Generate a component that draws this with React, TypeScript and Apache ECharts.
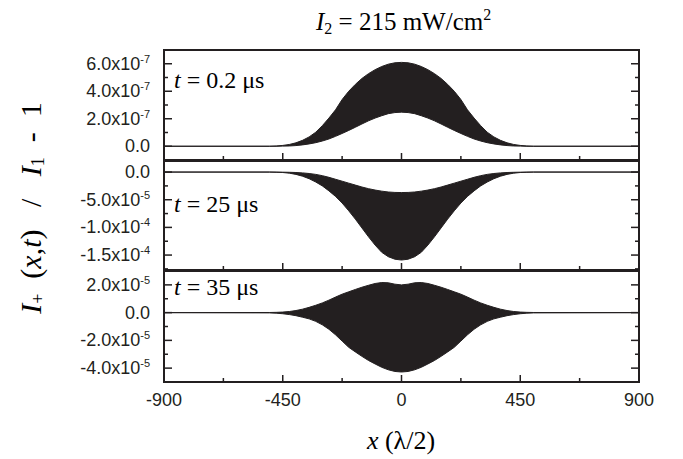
import React, { useEffect, useRef } from 'react';
import * as echarts from 'echarts';

// x positions (units of lambda/2)
const xValues = [-900, -500, -475, -450, -425, -400, -375, -350, -325, -300, -275, -250, -225, -200, -175, -150, -125, -100, -75, -50, -25, 0, 25, 50, 75, 100, 125, 150, 175, 200, 225, 250, 275, 300, 325, 350, 375, 400, 425, 450, 475, 500, 900];

// Panel 1 (t = 0.2 us), values in units of 1e-7
const p1Upper = [0, 0, 0.02, 0.06, 0.13, 0.25, 0.43, 0.68, 1.02, 1.5, 2.05, 2.65, 3.4, 4.0, 4.5, 4.93, 5.28, 5.57, 5.8, 5.97, 6.07, 6.1, 6.07, 5.97, 5.8, 5.57, 5.28, 4.93, 4.5, 4.0, 3.4, 2.65, 2.05, 1.5, 1.02, 0.68, 0.43, 0.25, 0.13, 0.06, 0.02, 0, 0];
const p1Lower = [0, 0, 0, 0.01, 0.02, 0.05, 0.1, 0.17, 0.26, 0.38, 0.53, 0.72, 0.93, 1.15, 1.38, 1.62, 1.85, 2.05, 2.22, 2.37, 2.45, 2.48, 2.45, 2.37, 2.22, 2.05, 1.85, 1.62, 1.38, 1.15, 0.93, 0.72, 0.53, 0.38, 0.26, 0.17, 0.1, 0.05, 0.02, 0.01, 0, 0, 0];

// Panel 2 (t = 25 us), values in units of 1e-5
const p2Upper = [0, 0, -0.01, -0.02, -0.04, -0.08, -0.15, -0.26, -0.42, -0.65, -0.95, -1.3, -1.65, -2.0, -2.35, -2.7, -3.0, -3.25, -3.45, -3.6, -3.68, -3.7, -3.68, -3.6, -3.45, -3.25, -3.0, -2.7, -2.35, -2.0, -1.65, -1.3, -0.95, -0.65, -0.42, -0.26, -0.15, -0.08, -0.04, -0.02, -0.01, 0, 0];
const p2Lower = [0, 0, -0.03, -0.08, -0.2, -0.42, -0.75, -1.2, -1.8, -2.5, -3.4, -4.4, -5.6, -7.0, -8.5, -10.1, -11.7, -13.2, -14.5, -15.3, -15.75, -15.9, -15.75, -15.3, -14.5, -13.2, -11.7, -10.1, -8.5, -7.0, -5.6, -4.4, -3.4, -2.5, -1.8, -1.2, -0.75, -0.42, -0.2, -0.08, -0.03, 0, 0];

// Panel 3 (t = 35 us), values in units of 1e-5
const p3Upper = [0, 0.01, 0.02, 0.04, 0.08, 0.15, 0.25, 0.38, 0.53, 0.7, 0.9, 1.12, 1.33, 1.5, 1.67, 1.83, 1.97, 2.1, 2.17, 2.15, 2.05, 2.0, 2.05, 2.15, 2.17, 2.1, 1.97, 1.83, 1.67, 1.5, 1.33, 1.12, 0.9, 0.7, 0.53, 0.38, 0.25, 0.15, 0.08, 0.04, 0.02, 0.01, 0];
const p3Lower = [0, -0.02, -0.04, -0.08, -0.14, -0.22, -0.33, -0.45, -0.63, -0.88, -1.2, -1.6, -2.05, -2.5, -2.83, -3.15, -3.45, -3.7, -3.94, -4.12, -4.24, -4.28, -4.24, -4.12, -3.94, -3.7, -3.45, -3.15, -2.83, -2.5, -2.05, -1.6, -1.2, -0.88, -0.63, -0.45, -0.33, -0.22, -0.14, -0.08, -0.04, -0.02, 0];

// Tick values and labels
const xTickValues = [-900, -450, 0, 450, 900];
const xTickLabels = ['-900', '-450', '0', '450', '900'];
const xMinorValues = [-675, -225, 225, 675];

const p1Majors = [0, 2, 4, 6];
const p1Minors = [1, 3, 5];
const p1Mant = ['0.0', '2.0x10', '4.0x10', '6.0x10'];
const p1Exp = ['', '-7', '-7', '-7'];

const p2Majors = [0, -5, -10, -15];
const p2Minors = [-2.5, -7.5, -12.5, -17.5];
const p2Mant = ['0.0', '-5.0x10', '-1.0x10', '-1.5x10'];
const p2Exp = ['', '-5', '-4', '-4'];

const p3Majors = [2, 0, -2, -4];
const p3Minors = [1, -1, -3];
const p3Mant = ['2.0x10', '0.0', '-2.0x10', '-4.0x10'];
const p3Exp = ['-5', '', '-5', '-5'];

const times = ['0.2', '25', '35'];

const INK = '#231f20';
const SANS = '"Liberation Sans", Arial, sans-serif';
const SERIF = '"Liberation Serif", "Times New Roman", serif';

export default function App() {
  const ref = useRef<HTMLDivElement>(null);
  useEffect(() => {
    const chart = echarts.init(ref.current!, null, { renderer: 'svg' });

    const panels = [
      { upper: p1Upper, lower: p1Lower, min: -1, max: 7, majors: p1Majors, minors: p1Minors, mant: p1Mant, exp: p1Exp },
      { upper: p2Upper, lower: p2Lower, min: -17.7, max: 2, majors: p2Majors, minors: p2Minors, mant: p2Mant, exp: p2Exp },
      { upper: p3Upper, lower: p3Lower, min: -5, max: 3, majors: p3Majors, minors: p3Minors, mant: p3Mant, exp: p3Exp },
    ];
    const layout = [
      { top: 50, height: 110 },
      { top: 161, height: 109 },
      { top: 271, height: 111 },
    ];

    const grid = layout.map((l) => ({
      left: 164, width: 475, top: l.top, height: l.height,
      show: true, borderColor: INK, borderWidth: 2,
    }));

    const hiddenLine = { show: false, onZero: false };

    const xAxis = panels.map((_, gi) => ({
      type: 'value', gridIndex: gi, min: -900, max: 900, interval: 450,
      axisLine: hiddenLine, splitLine: { show: false }, axisTick: { show: false },
      axisLabel: {
        show: gi === 2, margin: 9, fontFamily: SANS, fontSize: 18, color: INK,
        formatter: (v: number) => {
          const i = xTickValues.indexOf(v);
          return i >= 0 ? xTickLabels[i] : '';
        },
      },
    }));

    const yAxis = panels.map((p, gi) => ({
      type: 'value', gridIndex: gi, min: p.min, max: p.max,
      axisLine: hiddenLine, splitLine: { show: false }, axisTick: { show: false },
      axisLabel: {
        customValues: p.majors, margin: 14,
        formatter: (v: number) => {
          const i = p.majors.findIndex((m) => Math.abs(m - v) < 1e-6);
          if (i < 0) return '';
          return p.exp[i] ? `{b|${p.mant[i]}}{s|${p.exp[i]}}` : `{b|${p.mant[i]}}`;
        },
        rich: {
          b: { fontFamily: SANS, fontSize: 18, color: INK },
          s: { fontFamily: SANS, fontSize: 11, color: INK, padding: [0, 0, 10, 0] },
        },
      },
    }));

    const tickStyle = { stroke: INK, lineWidth: 1.5 };
    const series: any[] = [];
    panels.forEach((p, gi) => {
      // filled band between lower and upper envelopes
      series.push({
        type: 'custom', xAxisIndex: gi, yAxisIndex: gi, silent: true,
        data: xValues.map((x, i) => [x, p.upper[i], p.lower[i]]),
        encode: { x: 0, y: [1, 2] },
        renderItem: (params: any, api: any) => {
          if (params.dataIndex !== 0) return null;
          const top = xValues.map((x, i) => api.coord([x, p.upper[i]]));
          const bottom = xValues.map((x, i) => api.coord([x, p.lower[i]])).reverse();
          return {
            type: 'polygon',
            shape: { points: top.concat(bottom) },
            style: { fill: INK, stroke: INK, lineWidth: 1 },
          };
        },
      });
      // inward y ticks on both sides (major long, minor short)
      const yTickData = [
        ...p.majors.map((v) => [-900, v, 8]),
        ...p.minors.map((v) => [-900, v, 4]),
      ];
      series.push({
        type: 'custom', xAxisIndex: gi, yAxisIndex: gi, silent: true, z: 5,
        data: yTickData,
        encode: { x: 0, y: 1 },
        renderItem: (params: any, api: any) => {
          const v = api.value(1);
          const len = api.value(2);
          const l = api.coord([-900, v]);
          const r = api.coord([900, v]);
          return {
            type: 'group',
            children: [
              { type: 'line', shape: { x1: l[0], y1: l[1], x2: l[0] + len, y2: l[1] }, style: tickStyle },
              { type: 'line', shape: { x1: r[0] - len, y1: r[1], x2: r[0], y2: r[1] }, style: tickStyle },
            ],
          };
        },
      });
      // inward x ticks along the bottom edge
      const xTickData = [
        ...xTickValues.map((x) => [x, p.min, 7]),
        ...xMinorValues.map((x) => [x, p.min, 4]),
      ];
      series.push({
        type: 'custom', xAxisIndex: gi, yAxisIndex: gi, silent: true, z: 5,
        data: xTickData,
        encode: { x: 0, y: 1 },
        renderItem: (params: any, api: any) => {
          const pt = api.coord([api.value(0), p.min]);
          const len = api.value(2);
          return {
            type: 'line',
            shape: { x1: pt[0], y1: pt[1], x2: pt[0], y2: pt[1] - len },
            style: tickStyle,
          };
        },
      });
    });

    const serifRich = {
      n: { fontFamily: SERIF, fontSize: 24, color: INK },
      i: { fontFamily: SERIF, fontSize: 24, fontStyle: 'italic', color: INK },
    };
    const titleRich = {
      n: { fontFamily: SERIF, fontSize: 25, color: INK },
      i: { fontFamily: SERIF, fontSize: 25, fontStyle: 'italic', color: INK },
      sub: { fontFamily: SERIF, fontSize: 16, color: INK, padding: [14, 0, 0, 0] },
      sup: { fontFamily: SERIF, fontSize: 16, color: INK, padding: [0, 0, 14, 0] },
    };
    const bigRich = {
      n: { fontFamily: SERIF, fontSize: 26, color: INK },
      i: { fontFamily: SERIF, fontSize: 26, fontStyle: 'italic', color: INK },
    };
    const yRich = {
      n: { fontFamily: SERIF, fontSize: 30, color: INK },
      i: { fontFamily: SERIF, fontSize: 30, fontStyle: 'italic', color: INK },
      sub: { fontFamily: SERIF, fontSize: 18, color: INK, padding: [16, 0, 0, 0] },
    };

    const tY = [80, 204, 287];
    const graphic: any[] = [
      {
        type: 'text', x: 316, y: 21,
        style: {
          text: '{i|I}{sub|2}{n| = 215 mW/cm}{sup|2}', rich: titleRich,
          textAlign: 'left', textVerticalAlign: 'middle', align: 'left', verticalAlign: 'middle',
        },
      },
      {
        type: 'text', x: 30, y: 208, rotation: Math.PI / 2,
        style: {
          text: '{i|I}{sub|+}{n|  (}{i|x}{n|,}{i|t}{n|)   /   }{i|I}{sub|1}{n|  -  1}', rich: yRich,
          textAlign: 'center', textVerticalAlign: 'middle', align: 'center', verticalAlign: 'middle',
        },
      },
      {
        type: 'text', x: 401, y: 440,
        style: {
          text: '{i|x}{n| (λ/2)}', rich: bigRich,
          textAlign: 'center', textVerticalAlign: 'middle', align: 'center', verticalAlign: 'middle',
        },
      },
      ...times.map((t, k) => ({
        type: 'text', x: 174, y: tY[k],
        style: {
          text: `{i|t}{n| = ${t} μs}`, rich: serifRich,
          textAlign: 'left', textVerticalAlign: 'middle', align: 'left', verticalAlign: 'middle',
        },
      })),
    ];

    chart.setOption({
      animation: false,
      grid, xAxis, yAxis, series, graphic,
    });
    return () => chart.dispose();
  }, []);
  return <div ref={ref} style={{ position: 'fixed', left: 0, top: 0, width: 683, height: 459, background: '#fff' }} />;
}
